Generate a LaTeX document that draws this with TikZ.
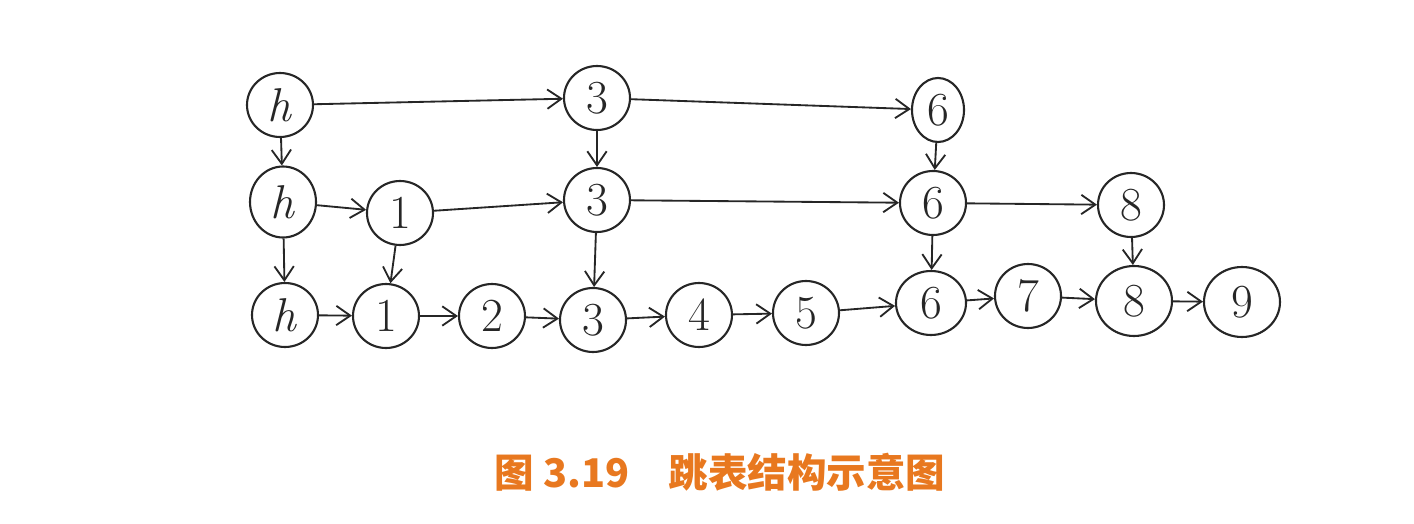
\documentclass[tikz,border=0pt]{standalone}
\usepackage{fontspec}
\usepackage{xcolor}
\usepackage{tikz}
\usetikzlibrary{arrows.meta,shapes.geometric}
\newfontfamily\cjk{Noto Sans CJK SC}
\definecolor{ink}{HTML}{262626}
\definecolor{capt}{HTML}{E8781F}

\begin{document}
\begin{tikzpicture}[
  nd/.style={draw=ink,line width=1.2pt,ellipse,inner sep=0pt,
             minimum width=1.32cm,minimum height=1.28cm,
             font=\fontsize{27}{29}\selectfont,text=ink},
  link/.style={-{Straight Barb[length=8pt,width=11pt]},line width=1.05pt,ink},
]
\useasboundingbox (0,0) rectangle (28.28,-10.48);

% level 2
\node[nd] (h2) at (5.60,-2.10) {\textit{h}};
\node[nd] (t3) at (11.94,-1.96) {3};
\node[nd,minimum width=1.04cm] (t6) at (18.76,-2.20) {6};

% level 1
\node[nd,minimum height=1.42cm] (h1) at (5.66,-4.04) {\textit{h}};
\node[nd] (m1) at (8.00,-4.26) {1};
\node[nd] (m3) at (11.94,-4.00) {3};
\node[nd] (m6) at (18.66,-4.06) {6};
\node[nd] (m8) at (22.62,-4.10) {8};

% level 0
\node[nd] (h0) at (5.70,-6.30) {\textit{h}};
\node[nd] (b1) at (7.72,-6.32) {1};
\node[nd] (b2) at (9.84,-6.32) {2};
\node[nd] (b3) at (11.86,-6.40) {3};
\node[nd] (b4) at (13.98,-6.30) {4};
\node[nd] (b5) at (16.12,-6.26) {5};
\node[nd,minimum width=1.40cm] (b6) at (18.62,-6.06) {6};
\node[nd] (b7) at (20.56,-5.92) {7};
\node[nd,minimum width=1.52cm,minimum height=1.40cm] (b8) at (22.68,-6.02) {8};
\node[nd,minimum width=1.52cm,minimum height=1.40cm] (b9) at (24.84,-6.04) {9};

% forward links
\draw[link] (h2)--(t3); \draw[link] (t3)--(t6);
\draw[link] (h1)--(m1); \draw[link] (m1)--(m3); \draw[link] (m3)--(m6);
\draw[link] (m6)--(m8);
\foreach \a/\b in {h0/b1,b1/b2,b2/b3,b3/b4,b4/b5,b5/b6,b6/b7,b7/b8,b8/b9}
  \draw[link] (\a)--(\b);

% down links
\draw[link] (h2)--(h1); \draw[link] (t3)--(m3); \draw[link] (t6)--(m6);
\draw[link] (h1)--(h0); \draw[link] (m1)--(b1); \draw[link] (m3)--(b3);
\draw[link] (m6)--(b6); \draw[link] (m8)--(b8);

% caption
\node[text=capt,font=\cjk\bfseries\fontsize{22.5}{26}\selectfont] (cap) at (14.40,-9.44)
  {图 3.19\quad 跳表结构示意图};
\end{tikzpicture}
\end{document}
